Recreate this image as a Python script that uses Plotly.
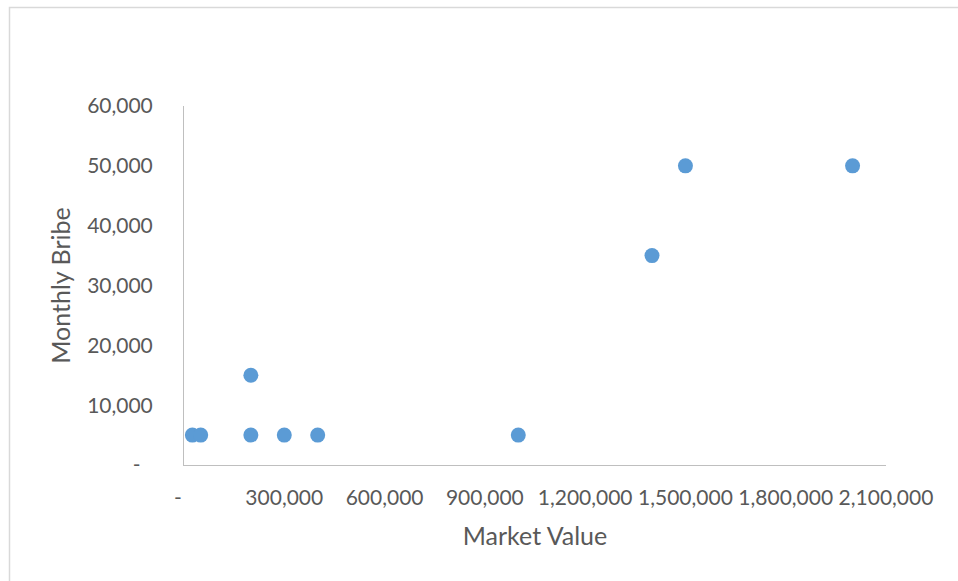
import plotly.graph_objects as go

# Market value of each post vs. the monthly bribe paid for it
market_value = [25000, 50000, 200000, 200000, 300000, 400000, 1000000, 1400000, 1500000, 2000000]
monthly_bribe = [5000, 5000, 5000, 15000, 5000, 5000, 5000, 35000, 50000, 50000]

x_tick_vals = [0, 300000, 600000, 900000, 1200000, 1500000, 1800000, 2100000]
x_tick_text = ["-\u2007", "300,000", "600,000", "900,000", "1,200,000", "1,500,000", "1,800,000", "2,100,000"]
y_tick_vals = [0, 10000, 20000, 30000, 40000, 50000, 60000]
y_tick_text = ["-\u2007", "10,000", "20,000", "30,000", "40,000", "50,000", "60,000"]

FONT = "Lato"
TEXT = "#595959"
AXIS = "#bfbfbf"

fig = go.Figure(
    go.Scatter(
        x=market_value,
        y=monthly_bribe,
        mode="markers",
        marker=dict(color="#5B9BD5", size=15, line=dict(width=0)),
        cliponaxis=False,
        showlegend=False,
    )
)

W, H = 958, 581
L, R, T, B = 184, 72, 106, 116
pw, ph = W - L - R, H - T - B

# outer chart frame (runs off the right and bottom edges)
fig.add_shape(
    type="rect", xref="paper", yref="paper",
    x0=(9.5 - L) / pw, x1=(W + 5 - L) / pw,
    y0=(H - B - (H + 5)) / ph, y1=(H - B - 7.5) / ph,
    line=dict(color="#d9d9d9", width=1.5), fillcolor="rgba(0,0,0,0)",
    layer="below",
)

fig.update_layout(
    width=W, height=H,
    margin=dict(l=L, r=R, t=T, b=B, pad=0),
    paper_bgcolor="white", plot_bgcolor="white",
    font=dict(family=FONT, color=TEXT, size=21),
    xaxis=dict(
        range=[0, 2100000], tickvals=x_tick_vals, ticktext=x_tick_text,
        showgrid=False, zeroline=False, showline=True, linecolor=AXIS, linewidth=1,
        ticks="", ticklabelstandoff=14,
        title=dict(text="Market Value", font=dict(size=25, color=TEXT), standoff=19),
    ),
    yaxis=dict(
        range=[0, 60000], tickvals=y_tick_vals, ticktext=y_tick_text,
        showgrid=False, zeroline=False, showline=True, linecolor=AXIS, linewidth=1,
        ticks="", ticklabelstandoff=26,
        title=dict(text="Monthly Bribe", font=dict(size=25, color=TEXT), standoff=9),
    ),
)

fig.write_html("out.html")
